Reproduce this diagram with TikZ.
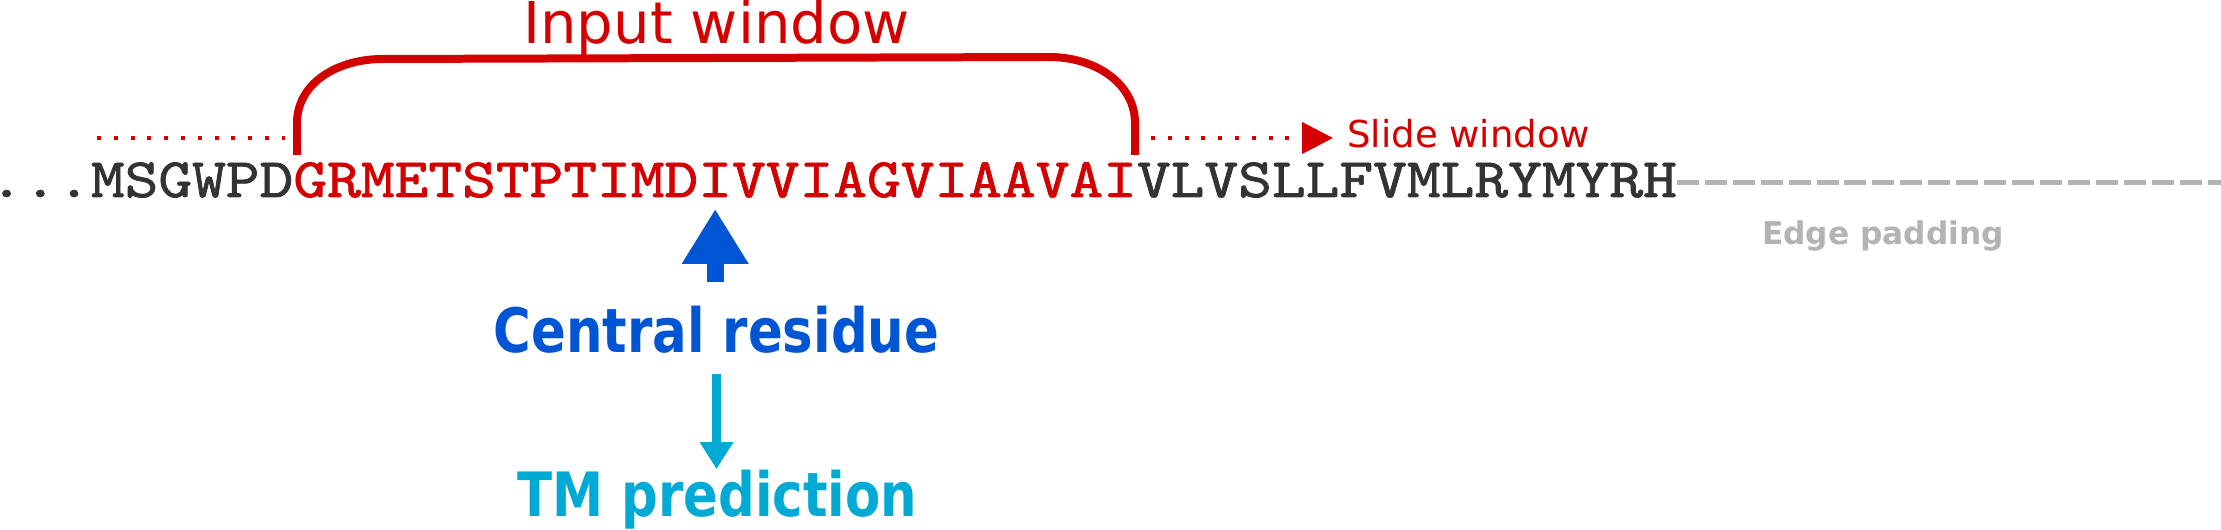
\documentclass[tikz,border=0pt]{standalone}
\usepackage{fontspec}
\usepackage{tikz}
\usetikzlibrary{arrows.meta}
\newfontfamily\seqfont{lmmono10-regular}[Extension=.otf,FakeStretch=1.154,RawFeature={embolden=1.3}]
\newfontfamily\lblfont{DejaVu Sans}
\newfontfamily\lblnarrow{DejaVu Sans}[FakeStretch=0.84]
\definecolor{WinRed}{RGB}{212,0,0}
\definecolor{SeqGray}{RGB}{51,51,51}
\definecolor{ResBlue}{RGB}{0,85,212}
\definecolor{PredCyan}{RGB}{0,170,212}
\definecolor{PadGray}{RGB}{179,179,179}

\begin{document}
\begin{tikzpicture}[x=0.02cm,y=0.02cm,
    seq/.style={font=\seqfont\fontsize{31.7}{32}\selectfont,inner sep=0,outer sep=0,anchor=base west},
    bigbold/.style={font=\lblnarrow\bfseries\fontsize{34.8}{35}\selectfont,inner sep=0,outer sep=0,anchor=base},
    dotline/.style={WinRed,line width=2.28pt,dash pattern=on 2.28pt off 7.28pt}]
      \useasboundingbox (0,0) rectangle (2221,530);
      % protein sequence, window in red
      \node[seq,text=SeqGray] (pre) at (-10.3,333) {...MSGWPD};
      \node[seq,text=WinRed] (winl) at (pre.base east) {GRMETSTPTIMD};
      \node[seq,text=WinRed] (mid) at (winl.base east) {I};
      \node[seq,text=WinRed] (winr) at (mid.base east) {VVIAGVIAAVAI};
      \node[seq,text=SeqGray] (post) at (winr.base east) {VLVSLLFVMLRYMYRH};
      % window bracket
      \draw[WinRed,line width=4.55pt] (297,375) -- (297,407) .. controls (297,446) and (336,471) .. (383,471)
        -- (1049,473) .. controls (1096,473) and (1135,446) .. (1135,407) -- (1135,375);
      \node[font=\lblfont\fontsize{32.8}{33}\selectfont,text=WinRed,inner sep=0,anchor=base] (inlbl) at (716.5,486) {Input window};
      % sliding
      \coordinate (dl1) at (97,392);
      \coordinate (dl2) at (285,392);
      \coordinate (dr1) at (1151,392);
      \coordinate (dr2) at (1333,392);
      \draw[dotline] (dl1) -- (dl2);
      \draw[dotline,-{Triangle[length=17.6pt,width=17.6pt]}] (dr1) -- (dr2);
      \node[font=\lblfont\fontsize{21.1}{22}\selectfont,text=WinRed,inner sep=0,anchor=base west] (slbl) at (1347,382) {Slide window};
      % padding
      \coordinate (padend) at (2235,347);
      \draw[PadGray,line width=2.85pt,dash pattern=on 12.5pt off 3.4pt] (post.east |- padend) -- (padend);
      \node[font=\lblfont\bfseries\fontsize{17.8}{18}\selectfont,text=PadGray,inner sep=0,anchor=base] (padlbl) at (1883,285) {Edge padding};
      % central residue and prediction
      \node[bigbold,text=ResBlue] (crlbl) at (716.5,177) {Central residue};
      \node[bigbold,text=PredCyan] (tmlbl) at (717.5,13) {TM prediction};
      \draw[ResBlue,line width=0.34cm,-{Triangle[length=1.1cm,width=1.26cm]},shorten <=0.49cm,shorten >=0.24cm]
        (mid.south |- crlbl.north) -- (mid.south);
      \draw[PredCyan,line width=0.18cm,-{Triangle[length=0.54cm,width=0.64cm]},shorten <=0.4cm,shorten >=0.03cm]
        (crlbl.south) -- (crlbl.south |- tmlbl.north);
    \end{tikzpicture}
\end{document}
